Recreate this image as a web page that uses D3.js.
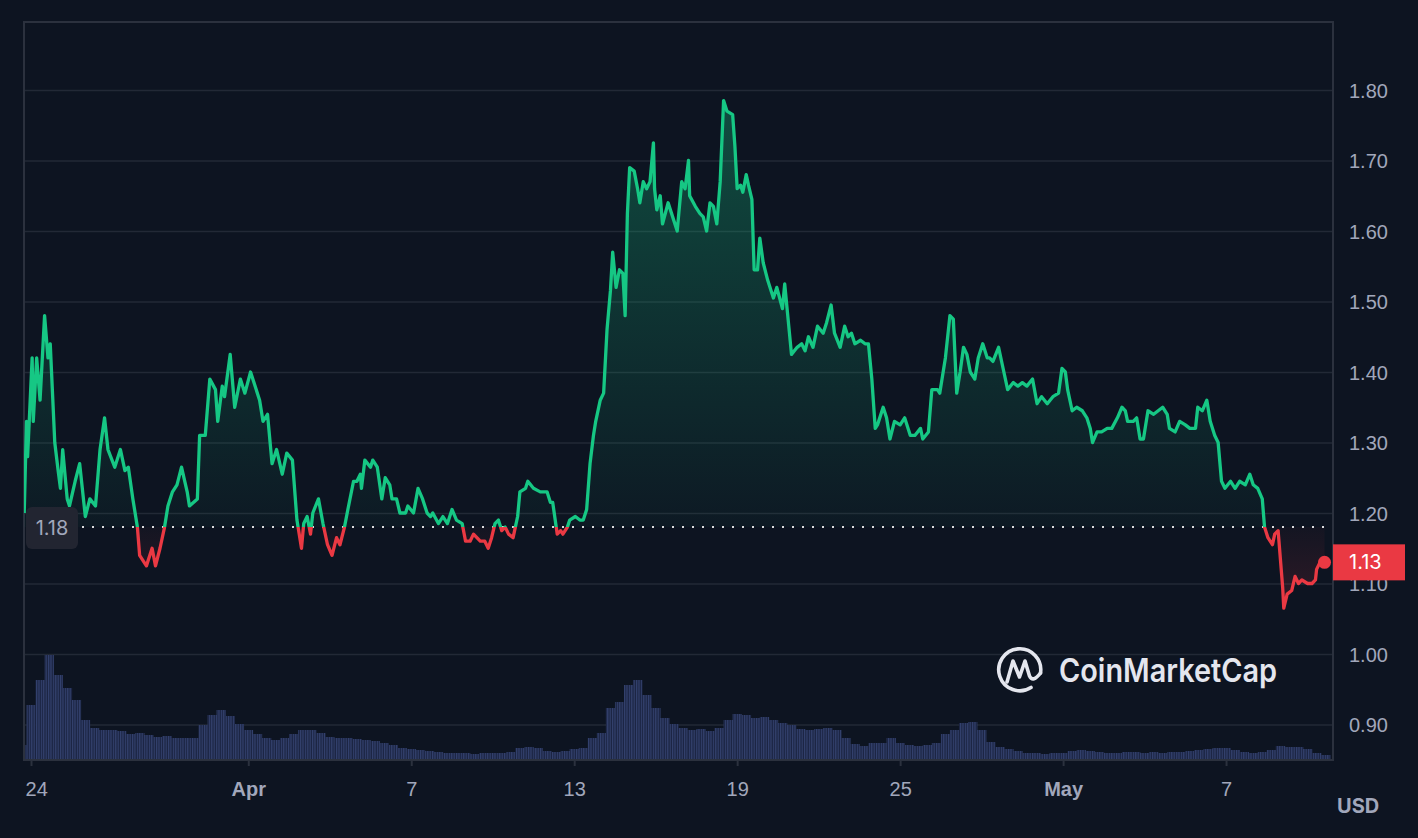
<!DOCTYPE html>
<html>
<head>
<meta charset="utf-8">
<script src="https://cdn.jsdelivr.net/npm/d3@7"></script>
<style>
  html, body { margin: 0; padding: 0; background: #0d1421; }
  svg { display: block; font-family: Inter, "Noto Sans", sans-serif; }
</style>
</head>
<body>
<svg id="chart" width="1418" height="838"></svg>
<script>
// price samples: hours after 24 Mar 00:00 UTC, and price in USD
const startUtc = Date.UTC(2024, 2, 24, 0, 0);
const priceHours = [
  -6, -4, -3, 1, 2, 5, 8, 12, 15, 17, 21, 24, 26, 28, 32, 34, 39, 43, 48, 52,
  57, 61, 65, 68, 74, 79, 83, 86, 90, 94, 96, 102, 107, 110, 114, 118, 121, 125, 129, 133,
  138, 140, 147, 149, 154, 158, 163, 165, 169, 171, 176, 180, 185, 189, 194, 198, 202, 205, 209, 213,
  217, 222, 226, 231, 235, 239, 241, 244, 247, 249, 254, 258, 262, 266, 270, 273, 277, 280, 285, 288,
  291, 292, 295, 300, 302, 306, 310, 313, 317, 319, 323, 326, 331, 333, 338, 342, 346, 350, 353, 355,
  360, 364, 368, 372, 376, 381, 384, 388, 391, 394, 397, 401, 404, 407, 410, 413, 416, 419, 422, 426,
  430, 432, 437, 439, 444, 450, 456, 459, 461, 465, 468, 470, 474, 476, 481, 485, 488, 491, 494, 497,
  499, 503, 506, 509, 512, 514, 517, 520, 523, 525, 527, 529, 533, 536, 538, 541, 544, 547, 550, 551,
  553, 556, 558, 563, 566, 571, 575, 578, 581, 582, 587, 591, 594, 597, 600, 603, 606, 609, 612, 615,
  620, 622, 624, 627, 629, 632, 634, 637, 639, 642, 644, 647, 651, 656, 659, 664, 666, 669, 672, 677,
  681, 684, 687, 691, 695, 700, 703, 707, 710, 715, 719, 722, 725, 728, 733, 737, 740, 743, 746, 748,
  753, 756, 759, 763, 768, 772, 777, 781, 786, 788, 793, 796, 801, 803, 808, 812, 815, 818, 821, 824,
  827, 830, 834, 837, 841, 845, 847, 850, 855, 859, 863, 868, 872, 876, 880, 885, 889, 893, 898, 903,
  908, 911, 914, 916, 920, 924, 929, 933, 936, 938, 942, 946, 951, 955, 960, 964, 967, 969, 974, 977,
  980, 983, 987, 992, 996, 1000, 1004, 1006, 1011, 1015, 1020, 1024, 1029, 1031, 1035, 1039, 1042, 1046, 1049, 1052,
  1055, 1060, 1064, 1068, 1073, 1077, 1080, 1084, 1088, 1090, 1093, 1097, 1099, 1102, 1106, 1107, 1110, 1114, 1117, 1120,
  1123, 1128, 1132, 1135, 1136, 1139, 1143
];
const priceValues = [
  1.20, 1.33, 1.28, 1.42, 1.33, 1.42, 1.36, 1.48, 1.42, 1.44, 1.30, 1.26, 1.235, 1.29, 1.22, 1.21, 1.245, 1.27, 1.195, 1.22,
  1.21, 1.29, 1.335, 1.29, 1.265, 1.29, 1.26, 1.265, 1.22, 1.18, 1.14, 1.125, 1.15, 1.125, 1.15, 1.18, 1.21, 1.23, 1.24, 1.265,
  1.23, 1.21, 1.22, 1.31, 1.31, 1.39, 1.375, 1.33, 1.38, 1.365, 1.425, 1.35, 1.39, 1.37, 1.40, 1.38, 1.36, 1.33, 1.34, 1.27,
  1.29, 1.255, 1.285, 1.275, 1.19, 1.15, 1.185, 1.195, 1.17, 1.20, 1.22, 1.185, 1.155, 1.14, 1.165, 1.155, 1.18, 1.205, 1.245, 1.245,
  1.255, 1.235, 1.275, 1.265, 1.275, 1.265, 1.22, 1.25, 1.24, 1.22, 1.22, 1.20, 1.20, 1.21, 1.20, 1.235, 1.22, 1.20, 1.195, 1.20,
  1.185, 1.195, 1.185, 1.205, 1.19, 1.185, 1.16, 1.16, 1.17, 1.165, 1.16, 1.16, 1.15, 1.165, 1.185, 1.19, 1.175, 1.18, 1.17, 1.165,
  1.195, 1.23, 1.235, 1.245, 1.235, 1.23, 1.23, 1.215, 1.215, 1.17, 1.175, 1.17, 1.18, 1.19, 1.195, 1.19, 1.19, 1.205, 1.27, 1.31,
  1.33, 1.36, 1.37, 1.46, 1.515, 1.57, 1.52, 1.545, 1.54, 1.48, 1.625, 1.69, 1.685, 1.66, 1.64, 1.67, 1.66, 1.67, 1.725, 1.66,
  1.63, 1.65, 1.61, 1.64, 1.625, 1.60, 1.67, 1.66, 1.70, 1.65, 1.635, 1.625, 1.62, 1.60, 1.64, 1.635, 1.61, 1.67, 1.785, 1.77,
  1.765, 1.72, 1.66, 1.665, 1.655, 1.68, 1.665, 1.645, 1.545, 1.545, 1.59, 1.555, 1.53, 1.505, 1.52, 1.49, 1.525, 1.475, 1.425, 1.435,
  1.44, 1.43, 1.45, 1.435, 1.465, 1.455, 1.47, 1.495, 1.455, 1.435, 1.465, 1.45, 1.455, 1.44, 1.445, 1.44, 1.44, 1.39, 1.32, 1.325,
  1.35, 1.335, 1.305, 1.33, 1.325, 1.335, 1.31, 1.31, 1.32, 1.305, 1.315, 1.375, 1.375, 1.37, 1.42, 1.48, 1.475, 1.37, 1.40, 1.435,
  1.425, 1.40, 1.39, 1.42, 1.44, 1.42, 1.42, 1.415, 1.435, 1.405, 1.375, 1.385, 1.38, 1.385, 1.38, 1.39, 1.355, 1.365, 1.355, 1.365,
  1.37, 1.405, 1.40, 1.375, 1.345, 1.35, 1.345, 1.335, 1.32, 1.30, 1.315, 1.315, 1.32, 1.32, 1.335, 1.35, 1.345, 1.33, 1.33, 1.335,
  1.305, 1.305, 1.345, 1.34, 1.345, 1.35, 1.34, 1.32, 1.315, 1.33, 1.325, 1.32, 1.32, 1.35, 1.345, 1.36, 1.33, 1.31, 1.30, 1.245,
  1.235, 1.245, 1.235, 1.245, 1.24, 1.255, 1.24, 1.235, 1.22, 1.18, 1.165, 1.155, 1.17, 1.175, 1.095, 1.065, 1.085, 1.09, 1.11, 1.10,
  1.105, 1.10, 1.10, 1.105, 1.12, 1.13, 1.13
];

// volume in millions USD, one bar every 8 hours starting 8h before 24 Mar
const volumeStartHour = -8;
const volumeStepHours = 8;
const volumeM = [
  15, 55, 80, 105, 85, 72, 60, 40, 32, 30,
  30, 29, 26, 27, 25, 23, 24, 22, 22, 22,
  35, 45, 50, 44, 36, 30, 26, 22, 20, 22,
  26, 30, 30, 27, 23, 22, 22, 21, 20, 19,
  17, 15, 12, 11, 10, 9, 8, 7, 7, 7,
  6, 7, 7, 7, 8, 12, 13, 12, 9, 8,
  9, 11, 12, 22, 27, 52, 58, 75, 80, 65,
  52, 42, 36, 32, 30, 31, 29, 32, 40, 46,
  45, 42, 43, 40, 37, 35, 31, 30, 31, 32,
  30, 22, 16, 14, 17, 17, 22, 17, 15, 14,
  15, 17, 26, 30, 37, 38, 30, 18, 13, 11,
  9, 7, 7, 6, 7, 7, 9, 10, 9, 8,
  7, 7, 8, 8, 7, 8, 7, 8, 8, 9,
  10, 11, 12, 12, 10, 8, 7, 8, 10, 14,
  13, 13, 11, 7, 5
];

const baselinePrice = 1.18;
const lastPrice = 1.13;
const yTicks = [0.90, 1.00, 1.10, 1.20, 1.30, 1.40, 1.50, 1.60, 1.70, 1.80];
const xTickDates = ['2024-03-24', '2024-04-01', '2024-04-07', '2024-04-13', '2024-04-19', '2024-04-25', '2024-05-01', '2024-05-07'];
const xTickLabels = ['24', 'Apr', '7', '13', '19', '25', 'May', '7'];
const monthLabels = ['Apr', 'May'];

const green = '#16c784', red = '#ea3943', grey = '#a1a7bb';
const plotL = 24, plotR = 1333, plotT = 22, plotB = 760;
const HOUR = 3600e3;

const svg = d3.select('#chart');
svg.append('rect').attr('width', 1418).attr('height', 838).attr('fill', '#0d1421');

const x = d3.scaleUtc()
  .domain([new Date(startUtc - 6.19 * HOUR), new Date(startUtc + 1150.5 * HOUR)])
  .range([plotL, plotR]);
const y = d3.scaleLinear().domain([0.9, 1.8]).range([724.5, 90]);
const yv = d3.scaleLinear().domain([0, 110]).range([plotB, plotB - 110]);

const prices = priceHours.map((h, i) => ({ t: new Date(startUtc + h * HOUR), v: priceValues[i] }));
const vols = volumeM.map((v, i) => ({ t: new Date(startUtc + (volumeStartHour + i * volumeStepHours) * HOUR), v }));
const yBase = y(baselinePrice);

const defs = svg.append('defs');
defs.append('clipPath').attr('id', 'clipPlot').append('rect')
  .attr('x', plotL).attr('y', plotT).attr('width', plotR - plotL).attr('height', plotB - plotT);
defs.append('clipPath').attr('id', 'clipAbove').append('rect')
  .attr('x', plotL).attr('y', plotT).attr('width', plotR - plotL).attr('height', yBase - plotT);
defs.append('clipPath').attr('id', 'clipBelow').append('rect')
  .attr('x', plotL).attr('y', yBase).attr('width', plotR - plotL).attr('height', plotB - yBase);

let gg = defs.append('linearGradient').attr('id', 'gradGreen').attr('gradientUnits', 'userSpaceOnUse')
  .attr('x1', 0).attr('x2', 0).attr('y1', y(1.8)).attr('y2', yBase);
gg.append('stop').attr('offset', 0).attr('stop-color', green).attr('stop-opacity', 0.32);
gg.append('stop').attr('offset', 1).attr('stop-color', green).attr('stop-opacity', 0.03);
let gr = defs.append('linearGradient').attr('id', 'gradRed').attr('gradientUnits', 'userSpaceOnUse')
  .attr('x1', 0).attr('x2', 0).attr('y1', yBase).attr('y2', y(1.05));
gr.append('stop').attr('offset', 0).attr('stop-color', red).attr('stop-opacity', 0.03);
gr.append('stop').attr('offset', 1).attr('stop-color', red).attr('stop-opacity', 0.18);

let hatch = defs.append('pattern').attr('id', 'hatch').attr('patternUnits', 'userSpaceOnUse')
  .attr('width', 2.4).attr('height', 10);
hatch.append('rect').attr('width', 2.4).attr('height', 10).attr('fill', '#1a2341');
hatch.append('rect').attr('width', 1.2).attr('height', 10).attr('fill', '#34426f');

// y axis + gridlines
const gy = svg.append('g').attr('transform', `translate(${plotR},0)`)
  .call(d3.axisRight(y).tickValues(yTicks).tickFormat(d3.format('.2f'))
    .tickSizeInner(-(plotR - plotL)).tickSizeOuter(0).tickPadding(16));
gy.select('.domain').remove();
gy.selectAll('line').attr('stroke', '#222936').attr('stroke-width', 1.5);
gy.selectAll('text').attr('fill', grey).attr('font-size', 20).attr('dy', '0.35em');

// volume
const bw = x(new Date(startUtc + volumeStepHours * HOUR)) - x(new Date(startUtc));
svg.append('g').attr('clip-path', 'url(#clipPlot)')
  .selectAll('rect').data(vols).join('rect')
  .attr('x', d => x(d.t) - bw / 2).attr('width', bw + 0.3)
  .attr('y', d => yv(d.v)).attr('height', d => plotB - yv(d.v))
  .attr('fill', 'url(#hatch)');

// frame
svg.append('rect').attr('x', plotL).attr('y', plotT).attr('width', plotR - plotL).attr('height', plotB - plotT)
  .attr('fill', 'none').attr('stroke', '#2b313e').attr('stroke-width', 2);

// x axis
const gx = svg.append('g').attr('transform', `translate(0,${plotB})`)
  .call(d3.axisBottom(x).tickValues(xTickDates.map(d => new Date(d + 'T00:00:00Z')))
    .tickFormat((d, i) => xTickLabels[i]).tickSizeInner(6).tickSizeOuter(0).tickPadding(16));
gx.select('.domain').remove();
gx.selectAll('line').attr('stroke', '#2b313e').attr('stroke-width', 2);
gx.selectAll('text').attr('fill', grey).attr('font-size', 20)
  .attr('font-weight', (d, i) => monthLabels.includes(xTickLabels[i]) ? 700 : 400);
gx.select('.tick text').attr('text-anchor', 'start').attr('x', -6);

// area fills
const area = d3.area().x(d => x(d.t)).y0(yBase).y1(d => y(d.v));
svg.append('path').datum(prices).attr('d', area).attr('fill', 'url(#gradGreen)').attr('clip-path', 'url(#clipAbove)');
svg.append('path').datum(prices).attr('d', area).attr('fill', 'url(#gradRed)').attr('clip-path', 'url(#clipBelow)');

// baseline dots
svg.append('line').attr('x1', 82).attr('x2', plotR - 4).attr('y1', yBase).attr('y2', yBase)
  .attr('stroke', 'rgba(255,255,255,0.85)').attr('stroke-width', 2).attr('stroke-dasharray', '2 8');

// price line
const line = d3.line().x(d => x(d.t)).y(d => y(d.v));
svg.append('path').datum(prices).attr('d', line).attr('fill', 'none').attr('stroke', green)
  .attr('stroke-width', 3.3).attr('stroke-linejoin', 'round').attr('clip-path', 'url(#clipAbove)');
svg.append('path').datum(prices).attr('d', line).attr('fill', 'none').attr('stroke', red)
  .attr('stroke-width', 3.3).attr('stroke-linejoin', 'round').attr('clip-path', 'url(#clipBelow)');

const last = prices[prices.length - 1];
svg.append('circle').attr('cx', x(last.t)).attr('cy', y(last.v)).attr('r', 6.5).attr('fill', red);

// baseline label
svg.append('rect').attr('x', plotL + 2).attr('y', yBase - 20).attr('width', 52).attr('height', 42)
  .attr('rx', 6).attr('fill', '#222531');
svg.append('text').attr('x', plotL + 28).attr('y', yBase + 1).attr('dy', '0.35em').attr('text-anchor', 'middle')
  .attr('fill', grey).attr('font-size', 20).text(d3.format('.2f')(baselinePrice));

// last price tag
svg.append('rect').attr('x', plotR).attr('y', y(lastPrice) - 18).attr('width', 72).attr('height', 36).attr('fill', red);
svg.append('text').attr('x', plotR + 16).attr('y', y(lastPrice)).attr('dy', '0.35em')
  .attr('fill', '#fff').attr('font-size', 20).text(d3.format('.2f')(lastPrice));

// currency
svg.append('text').attr('x', 1337).attr('y', 813).attr('fill', grey).attr('font-size', 20)
  .attr('font-weight', 700).text('USD');

// watermark
const logo = svg.append('g').attr('fill', 'none').attr('stroke', '#e4e6ee').attr('stroke-width', 3.6)
  .attr('stroke-linecap', 'round').attr('stroke-linejoin', 'round');
logo.append('path').attr('d', 'M1031,687.5 A21,21 0 1 1 1040.5,673');
logo.append('path').attr('d', 'M1007,682 L1013,661 L1019.5,677 L1025,661 L1029.5,676 Q1033,683 1040.5,673');
svg.append('text').attr('x', 1059).attr('y', 682).attr('fill', '#e4e6ee').attr('font-size', 32)
  .attr('font-weight', 600).attr('textLength', 218).attr('lengthAdjust', 'spacingAndGlyphs').text('CoinMarketCap');
</script>
</body>
</html>
